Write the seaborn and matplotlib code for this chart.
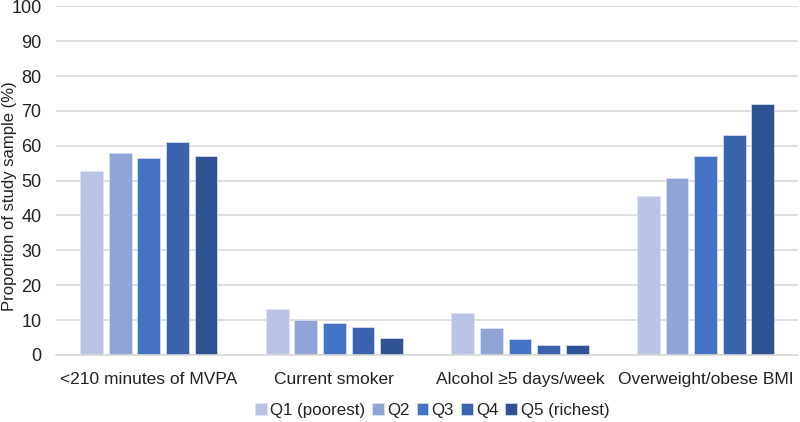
import pandas as pd
import matplotlib.pyplot as plt
import seaborn as sns

# Data
categories = ['<210 minutes of MVPA', 'Current smoker', 'Alcohol \u22655 days/week', 'Overweight/obese BMI']
quintiles = ['Q1 (poorest)', 'Q2', 'Q3', 'Q4', 'Q5 (richest)']
q1 = [52.9, 13.2, 12.0, 45.7]
q2 = [57.8, 10.1, 7.6, 50.7]
q3 = [56.6, 9.1, 4.7, 57.1]
q4 = [61.1, 8.0, 2.9, 63.2]
q5 = [57.2, 4.9, 2.9, 72.1]
colors = ['#b9c3e3', '#8fa3d5', '#4472c4', '#3b63ad', '#2f5293']

# Build long-form table
rows = []
for q, vals in zip(quintiles, [q1, q2, q3, q4, q5]):
    for c, v in zip(categories, vals):
        rows.append({'category': c, 'quintile': q, 'value': v})
df = pd.DataFrame(rows)

sns.set_style('white')
plt.rcParams['font.family'] = ['Liberation Sans', 'DejaVu Sans']

fig = plt.figure(figsize=(8, 4.22), dpi=100)
ax = fig.add_axes([0.07, 0.159, 0.928, 0.826])

sns.barplot(data=df, x='category', y='value', hue='quintile', order=categories,
            hue_order=quintiles, palette=colors, saturation=1, width=0.77, gap=0.2,
            edgecolor='#dde3f2', linewidth=0.5, ax=ax, legend=True)

ax.set_ylim(0, 100)
ax.set_xlim(-0.5, 3.5)
ax.set_yticks(range(0, 101, 10))
ax.yaxis.grid(True, color='#d9d9d9', linewidth=1.2)
ax.set_axisbelow(True)
for s in ['top', 'right', 'left']:
    ax.spines[s].set_visible(False)
ax.spines['bottom'].set_color('#d9d9d9')
ax.spines['bottom'].set_linewidth(1.2)
ax.tick_params(axis='y', length=0, labelsize=13, colors='#222222', pad=10.5)
ax.tick_params(axis='x', length=0, labelsize=12.5, colors='#222222', pad=12)
ax.set_xlabel('')
ax.set_ylabel('')
fig.text(0.002, 1 - 196 / 422, 'Proportion of study sample (%)', rotation=90,
         ha='left', va='center', fontsize=12, color='#222222')

handles, labels = ax.get_legend_handles_labels()
ax.get_legend().remove()
fig.legend(handles, labels, loc='center', bbox_to_anchor=(0.54, 0.027), ncol=5,
           frameon=False, fontsize=12.2, handlelength=0.7, handleheight=0.7,
           handletextpad=0.2, columnspacing=0.4, labelcolor='#222222')

fig.savefig('out.png', dpi=100)
